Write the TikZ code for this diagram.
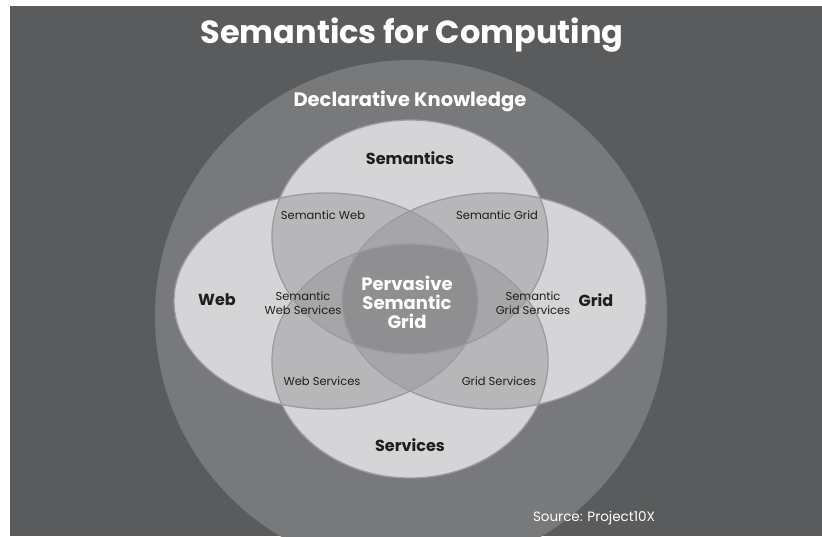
\documentclass[tikz,border=0pt]{standalone}
\usepackage{fontspec}
\setmainfont{Poppins}
\definecolor{bgdark}{HTML}{5A5B5D}
\definecolor{outerring}{HTML}{78797B}
\definecolor{lvlone}{HTML}{D5D5D7}
\definecolor{lvltwo}{HTML}{B7B7B9}
\definecolor{lvlthree}{HTML}{A6A6A8}
\definecolor{lvlfour}{HTML}{8F8F91}
\definecolor{rim}{HTML}{9C9C9E}
\definecolor{ink}{HTML}{1E1E1E}
% the four overlapping sets
\newcommand{\ellSem}{(410,237) ellipse [x radius=138pt, y radius=117pt]}
\newcommand{\ellSrv}{(410,361) ellipse [x radius=138pt, y radius=117pt]}
\newcommand{\ellWeb}{(326,301) ellipse [x radius=152pt, y radius=108pt]}
\newcommand{\ellGrd}{(494,301) ellipse [x radius=152pt, y radius=108pt]}
% fill the part shared by two sets
\newcommand{\pairfill}[2]{\begin{scope}\clip #1; \fill[lvltwo] #2; \end{scope}}
% fill the part shared by three sets
\newcommand{\triplefill}[3]{\begin{scope}\clip #1; \clip #2; \fill[lvlthree] #3; \end{scope}}
\begin{document}
\begin{tikzpicture}[x=1pt,y=-1pt,
  bigtitle/.style={font=\bfseries\fontsize{32}{36}\selectfont, text=white},
  ringlabel/.style={font=\bfseries\fontsize{19.5}{23}\selectfont, text=white},
  setlabel/.style={font=\bfseries\fontsize{16}{19}\selectfont, text=ink},
  overlaplabel/.style={font=\fontsize{11.5}{14}\selectfont, text=ink, align=center},
  corelabel/.style={font=\bfseries\fontsize{18}{19}\selectfont, text=white, align=center},
  sourcelabel/.style={font=\fontsize{13.5}{16}\selectfont, text=white}]
\useasboundingbox (0,0) rectangle (822,536);
\fill[white] (0,0) rectangle (822,536);
\begin{scope}
  \clip (10,6) rectangle (822,536);
  \fill[bgdark] (10,6) rectangle (822,536);
  \fill[outerring] (411,316) circle [radius=256pt];
  % single sets
  \fill[lvlone] \ellSem; \fill[lvlone] \ellSrv;
  \fill[lvlone] \ellWeb; \fill[lvlone] \ellGrd;
  % pairwise overlaps
  \pairfill{\ellSem}{\ellSrv}
  \pairfill{\ellSem}{\ellWeb}
  \pairfill{\ellSem}{\ellGrd}
  \pairfill{\ellSrv}{\ellWeb}
  \pairfill{\ellSrv}{\ellGrd}
  \pairfill{\ellWeb}{\ellGrd}
  % triple overlaps
  \triplefill{\ellSem}{\ellSrv}{\ellWeb}
  \triplefill{\ellSem}{\ellSrv}{\ellGrd}
  \triplefill{\ellSem}{\ellWeb}{\ellGrd}
  \triplefill{\ellSrv}{\ellWeb}{\ellGrd}
  % the core shared by all four
  \begin{scope}
    \clip \ellSem; \clip \ellSrv; \clip \ellWeb;
    \fill[lvlfour] \ellGrd;
  \end{scope}
  % outlines
  \draw[rim, line width=1.3pt] \ellSem \ellSrv \ellWeb \ellGrd;
\end{scope}
\node[bigtitle] (title) at (412,35) {Semantics for Computing};
\node[ringlabel] (declarative) at (410,101) {Declarative Knowledge};
\node[setlabel] (semantics) at (410,158) {Semantics};
\node[setlabel] (services) at (410,445) {Services};
\node[setlabel] (web) at (217,300) {Web};
\node[setlabel] (grid) at (596,300) {Grid};
\node[overlaplabel] (semweb) at (323,215) {Semantic Web};
\node[overlaplabel] (semgrid) at (497,215) {Semantic Grid};
\node[overlaplabel] (semwebsrv) at (303,303) {Semantic\\Web Services};
\node[overlaplabel] (semgridsrv) at (533,303) {Semantic\\Grid Services};
\node[overlaplabel] (websrv) at (322,381) {Web Services};
\node[overlaplabel] (gridsrv) at (499,381) {Grid Services};
\node[corelabel] (core) at (407,302) {Pervasive\\Semantic\\Grid};
\node[sourcelabel] (source) at (594,518) {Source: Project10X};
\end{tikzpicture}
\end{document}
